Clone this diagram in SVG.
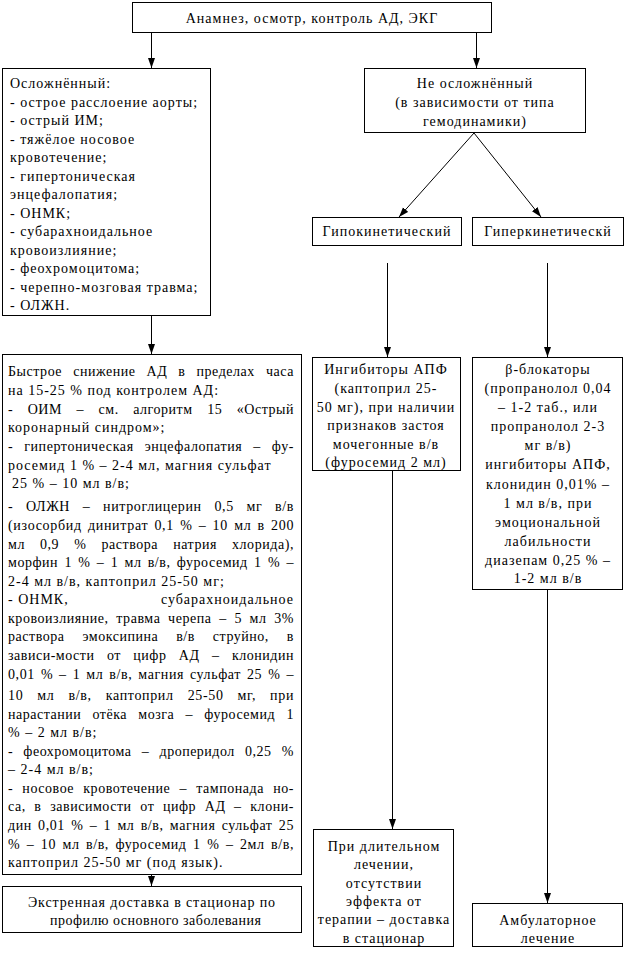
<svg xmlns="http://www.w3.org/2000/svg" width="625" height="953" viewBox="0 0 625 953">
<style>
rect{fill:#fff;stroke:#000;stroke-width:1}
text{font-family:'Liberation Serif','Tinos','Times New Roman','DejaVu Serif',serif;font-size:14px;fill:#000;letter-spacing:1px}
.c{text-anchor:middle}
.r{text-anchor:end}
.j{letter-spacing:0.6px}
.ln{stroke:#000;stroke-width:1;fill:none}
</style>
<defs>
<marker id="ah" markerUnits="userSpaceOnUse" markerWidth="10" markerHeight="8" refX="10" refY="3.5" orient="auto">
<path d="M0,0 L10,3.5 L0,7 Z" fill="#000"/>
</marker>
</defs>
<rect x="0" y="0" width="625" height="953" style="stroke:none"/>

<g id="connectors">
<line class="ln" x1="151.5" y1="33" x2="151.5" y2="68" marker-end="url(#ah)"/>
<line class="ln" x1="476.5" y1="33" x2="476.5" y2="68" marker-end="url(#ah)"/>
<line class="ln" x1="151.5" y1="316" x2="151.5" y2="354" marker-end="url(#ah)"/>
<line class="ln" x1="474" y1="133" x2="399" y2="217" marker-end="url(#ah)"/>
<line class="ln" x1="474" y1="133" x2="541" y2="217" marker-end="url(#ah)"/>
<line class="ln" x1="387.5" y1="263" x2="387.5" y2="357" marker-end="url(#ah)"/>
<line class="ln" x1="547.5" y1="263" x2="547.5" y2="357" marker-end="url(#ah)"/>
<line class="ln" x1="392.5" y1="471" x2="392.5" y2="829" marker-end="url(#ah)"/>
<line class="ln" x1="547.5" y1="590" x2="547.5" y2="903" marker-end="url(#ah)"/>
<line class="ln" x1="151.5" y1="848" x2="151.5" y2="886" marker-end="url(#ah)"/>
</g>

<g id="top">
<rect x="132.5" y="2.5" width="359" height="30"/>
<text class="c" x="312" y="23">Анамнез, осмотр, контроль АД, ЭКГ</text>
</g>

<g id="complicated">
<rect x="2.5" y="68.5" width="208" height="247"/>
<text x="10" y="88">Осложнённый:</text>
<text x="10" y="106.5">- острое расслоение аорты;</text>
<text x="10" y="125">- острый ИМ;</text>
<text x="10" y="143.5">- тяжёлое носовое</text>
<text x="10" y="162">кровотечение;</text>
<text x="10" y="180.5">- гипертоническая</text>
<text x="10" y="199">энцефалопатия;</text>
<text x="10" y="217.5">- ОНМК;</text>
<text x="10" y="236">- субарахноидальное</text>
<text x="10" y="254.5">кровоизлияние;</text>
<text x="10" y="273">- феохромоцитома;</text>
<text x="10" y="291.5">- черепно-мозговая травма;</text>
<text x="10" y="310">- ОЛЖН.</text>
</g>

<g id="uncomplicated">
<rect x="364.5" y="68.5" width="221" height="64"/>
<text class="c" x="475" y="88">Не осложнённый</text>
<text class="c" x="475" y="107">(в зависимости от типа</text>
<text class="c" x="475" y="126">гемодинамики)</text>
</g>

<g id="hypokinetic">
<rect x="312.5" y="217.5" width="149" height="28"/>
<text class="c" x="387" y="236">Гипокинетический</text>
</g>

<g id="hyperkinetic">
<rect x="472.5" y="217.5" width="151" height="28"/>
<text class="c" x="548" y="236">Гиперкинетическй</text>
</g>

<g id="rapid">
<rect x="2.5" y="354.5" width="299" height="520"/>
<text class="j" x="8" y="376" textLength="286" lengthAdjust="spacing" style="word-spacing:7px">Быстрое снижение АД в пределах часа</text>
<text x="8" y="395">на 15-25 % под контролем АД:</text>
<text class="j" x="8" y="414" textLength="286" lengthAdjust="spacing" style="word-spacing:10.5px">- ОИМ – см. алгоритм 15 «Острый</text>
<text x="8" y="432">коронарный синдром»;</text>
<text class="j" x="8" y="451" textLength="286" lengthAdjust="spacing" style="word-spacing:6.9px">- гипертоническая энцефалопатия – фу-</text>
<text x="8" y="470">росемид 1 % – 2-4 мл, магния сульфат</text>
<text x="12" y="488"> 25 % – 10 мл в/в;</text>
<text class="j" x="8" y="511" textLength="286" lengthAdjust="spacing" style="word-spacing:8.6px">- ОЛЖН – нитроглицерин 0,5 мг в/в</text>
<text class="j" x="8" y="530" textLength="286" lengthAdjust="spacing" style="word-spacing:2px">(изосорбид динитрат 0,1 % – 10 мл в 200</text>
<text class="j" x="8" y="549" textLength="286" lengthAdjust="spacing" style="word-spacing:11px">мл 0,9 % раствора натрия хлорида),</text>
<text class="j" x="8" y="567" textLength="286" lengthAdjust="spacing" style="word-spacing:2.3px">морфин 1 % – 1 мл в/в, фуросемид 1 % –</text>
<text x="8" y="586">2-4 мл в/в, каптоприл 25-50 мг;</text>
<text x="8" y="604">- ОНМК,</text>
<text class="r" x="294" y="604">субарахноидальное</text>
<text class="j" x="8" y="623" textLength="286" lengthAdjust="spacing" style="word-spacing:3.6px">кровоизлияние, травма черепа – 5 мл 3%</text>
<text class="j" x="8" y="641" textLength="286" lengthAdjust="spacing" style="word-spacing:13.9px">раствора эмоксипина в/в струйно, в</text>
<text class="j" x="8" y="660" textLength="286" lengthAdjust="spacing" style="word-spacing:8.4px">зависи-мости от цифр АД – клонидин</text>
<text class="j" x="8" y="679" textLength="286" lengthAdjust="spacing" style="word-spacing:1.9px">0,01 % – 1 мл в/в, магния сульфат 25 % –</text>
<text class="j" x="8" y="700" textLength="286" lengthAdjust="spacing" style="word-spacing:9.9px">10 мл в/в, каптоприл 25-50 мг, при</text>
<text class="j" x="8" y="719" textLength="286" lengthAdjust="spacing" style="word-spacing:7.3px">нарастании отёка мозга – фуросемид 1</text>
<text x="8" y="737">% – 2 мл в/в;</text>
<text class="j" x="8" y="756" textLength="286" lengthAdjust="spacing" style="word-spacing:6.2px">- феохромоцитома – дроперидол 0,25 %</text>
<text x="8" y="774">– 2-4 мл в/в;</text>
<text class="j" x="8" y="793" textLength="286" lengthAdjust="spacing" style="word-spacing:5.1px">- носовое кровотечение – тампонада но-</text>
<text class="j" x="8" y="811" textLength="286" lengthAdjust="spacing" style="word-spacing:4.6px">са, в зависимости от цифр АД – клони-</text>
<text class="j" x="8" y="830" textLength="286" lengthAdjust="spacing" style="word-spacing:2.2px">дин 0,01 % – 1 мл в/в, магния сульфат 25</text>
<text class="j" x="8" y="849" textLength="286" lengthAdjust="spacing" style="word-spacing:2.5px">% – 10 мл в/в, фуросемид 1 % – 2мл в/в,</text>
<text x="8" y="867">каптоприл 25-50 мг (под язык).</text>
</g>

<g id="acei">
<rect x="312.5" y="357.5" width="148" height="113"/>
<text class="c" x="386" y="374">Ингибиторы АПФ</text>
<text class="c" x="386" y="393">(каптоприл 25-</text>
<text class="c" x="386" y="411.5">50 мг), при наличии</text>
<text class="c" x="386" y="430">признаков застоя</text>
<text class="c" x="386" y="448.5">мочегонные в/в</text>
<text class="c" x="386" y="467">(фуросемид 2 мл)</text>
</g>

<g id="beta">
<rect x="472.5" y="357.5" width="150" height="232"/>
<text class="c" x="548" y="374">β-блокаторы</text>
<text class="c" x="548" y="393">(пропранолол 0,04</text>
<text class="c" x="548" y="412">– 1-2 таб., или</text>
<text class="c" x="548" y="431">пропранолол 2-3</text>
<text class="c" x="548" y="450">мг в/в)</text>
<text class="c" x="548" y="469">ингибиторы АПФ,</text>
<text class="c" x="548" y="489">клонидин 0,01% –</text>
<text class="c" x="548" y="508">1 мл в/в, при</text>
<text class="c" x="548" y="527">эмоциональной</text>
<text class="c" x="548" y="546">лабильности</text>
<text class="c" x="548" y="565">диазепам 0,25 % –</text>
<text class="c" x="548" y="583">1-2 мл в/в</text>
</g>

<g id="emergency">
<rect x="2.5" y="886.5" width="299" height="46"/>
<text class="c" x="152" y="907" textLength="248" lengthAdjust="spacing">Экстренная доставка в стационар по</text>
<text class="c" x="156" y="925" textLength="212" lengthAdjust="spacing">профилю основного заболевания</text>
</g>

<g id="longterm">
<rect x="313.5" y="829.5" width="140" height="117"/>
<text class="c" x="384" y="851">При длительном</text>
<text class="c" x="384" y="869">лечении,</text>
<text class="c" x="384" y="888">отсутствии</text>
<text class="c" x="384" y="906">эффекта от</text>
<text class="c" x="384" y="924">терапии – доставка</text>
<text class="c" x="384" y="943">в стационар</text>
</g>

<g id="outpatient">
<rect x="472.5" y="903.5" width="150" height="43"/>
<text class="c" x="548" y="925">Амбулаторное</text>
<text class="c" x="548" y="943">лечение</text>
</g>
</svg>
